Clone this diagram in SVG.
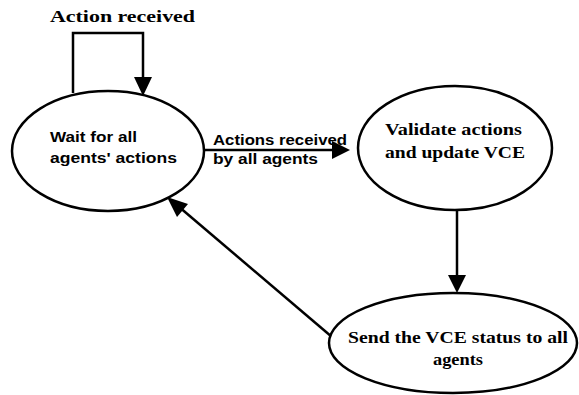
<svg xmlns="http://www.w3.org/2000/svg" width="579" height="395" viewBox="0 0 579 395">
  <style>
    .state { fill: #ffffff; stroke: #000000; stroke-width: 2.5; }
    .edge { fill: none; stroke: #000000; stroke-width: 2.5; }
    .serif { font-family: "Liberation Serif", "Times New Roman", serif; font-weight: bold; font-size: 17px; fill: #000000; }
    .sans { font-family: "Liberation Sans", Arial, sans-serif; font-weight: bold; font-size: 14px; fill: #000000; }
  </style>
  <defs>
    <marker id="arrow" markerWidth="8" markerHeight="8" refX="7" refY="4" orient="auto" markerUnits="userSpaceOnUse" viewBox="0 0 8 8">
      <path d="M0,0 L8,4 L0,8 Z" fill="#000000"/>
    </marker>
  </defs>
  <rect width="579" height="395" fill="#ffffff"/>

  <g id="connectors">
    <!-- self loop on the waiting state -->
    <polyline class="edge" points="73,93 73,33 143,33 143,78"/>
    <polygon points="134,77 152,77 143,96" fill="#000000"/>
    <!-- wait -> validate -->
    <line class="edge" x1="205" y1="150" x2="334" y2="150"/>
    <polygon points="332,141 332,159 350,150" fill="#000000"/>
    <!-- validate -> send -->
    <line class="edge" x1="457" y1="210" x2="457" y2="276"/>
    <polygon points="448,275 466,275 457,293" fill="#000000"/>
    <!-- send -> wait -->
    <line class="edge" x1="332" y1="337" x2="178" y2="206"/>
    <polygon points="167,197 188,204 177,217" fill="#000000"/>
    <text class="serif" x="50" y="22" textLength="145" lengthAdjust="spacingAndGlyphs">Action received</text>
    <text class="sans" x="213" y="145" textLength="134" lengthAdjust="spacingAndGlyphs">Actions received</text>
    <text class="sans" x="213" y="164" textLength="105" lengthAdjust="spacingAndGlyphs">by all agents</text>
  </g>

  <g id="wait">
    <ellipse class="state" cx="108" cy="151" rx="96" ry="60"/>
    <text class="sans" x="50" y="142" textLength="87" lengthAdjust="spacingAndGlyphs">Wait for all</text>
    <text class="sans" x="50" y="163" textLength="127" lengthAdjust="spacingAndGlyphs">agents' actions</text>
  </g>

  <g id="validate">
    <ellipse class="state" cx="455" cy="148" rx="97" ry="62"/>
    <text class="serif" x="385" y="135" textLength="137" lengthAdjust="spacingAndGlyphs">Validate actions</text>
    <text class="serif" x="385" y="158" textLength="140" lengthAdjust="spacingAndGlyphs">and update VCE</text>
  </g>

  <g id="send">
    <ellipse class="state" cx="453" cy="343" rx="124" ry="50"/>
    <text class="serif" x="348" y="343" textLength="220" lengthAdjust="spacingAndGlyphs">Send the VCE status to all</text>
    <text class="serif" x="433" y="365" textLength="50" lengthAdjust="spacingAndGlyphs">agents</text>
  </g>
</svg>
